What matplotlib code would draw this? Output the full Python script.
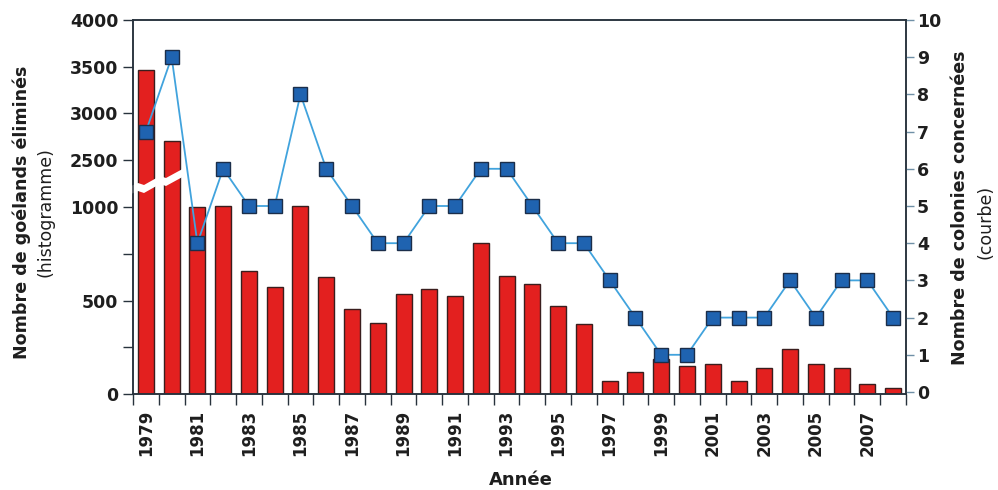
import numpy as np
import matplotlib
matplotlib.use("Agg")
import matplotlib.pyplot as plt
from matplotlib.patches import Polygon

# ---------------- data ----------------
years = list(range(1979, 2009))
goelands = [3460, 2710, 1015, 1020, 659, 574, 1034, 624, 456, 378,
            533, 561, 526, 806, 631, 588, 471, 374, 68, 116,
            186, 150, 159, 71, 139, 242, 159, 137, 53, 32]
colonies = [7, 9, 4, 6, 5, 5, 8, 6, 5, 4,
            4, 5, 5, 6, 6, 5, 4, 4, 3, 2,
            1, 1, 2, 2, 2, 3, 2, 3, 3, 2]
left_ticks = [0, 500, 1000, 2500, 3000, 3500, 4000]
left_minor = [250, 750]
right_ticks = list(range(0, 11))
label_years = [y for y in years if y % 2 == 1]

# ---------------- broken-axis scale ----------------
GAP = 251.0
def fwd(v):
    v = np.asarray(v, dtype=float)
    return np.where(v <= 1000, v,
                    np.where(v < 2500, 1000 + (v - 1000) * GAP / 1500.0,
                             1000 + GAP + (v - 2500) * 0.5))

def inv(u):
    u = np.asarray(u, dtype=float)
    return np.where(u <= 1000, u,
                    np.where(u < 1000 + GAP, 1000 + (u - 1000) * 1500.0 / GAP,
                             2500 + (u - 1000 - GAP) * 2.0))

FONT = "DejaVu Sans"
plt.rcParams['font.family'] = [FONT]

W, H = 998, 490
fig = plt.figure(figsize=(W / 100, H / 100), dpi=100)
L, R, T, B = 133, 906, 20, 394
ax = fig.add_axes([L / W, 1 - B / H, (R - L) / W, (B - T) / H])

spine_col = "#27323c"
bar_col = "#e3201f"
bar_edge = "#3a1e1e"

ax.set_yscale('function', functions=(fwd, inv))
ax.bar(years, goelands, width=0.62, color=bar_col, edgecolor=bar_edge,
       linewidth=1.0, zorder=2)
ax.set_xlim(1978.5, 2008.5)
ax.set_ylim(0, 4000)

ax.set_yticks(left_ticks)
ax.set_yticklabels([str(t) for t in left_ticks], fontsize=12.5, fontweight='bold',
                   color="#1e1e1e")
ax.set_yticks(left_minor, minor=True)
ax.tick_params(axis='y', which='both', direction='out', length=7.2, width=1.0,
               color=spine_col, pad=3.5)

# x ticks: marks at slot boundaries, labels at odd years
ax.set_xticks([y - 0.5 for y in years] + [years[-1] + 0.5])
ax.set_xticklabels([])
ax.tick_params(axis='x', which='major', direction='out', length=8, width=1.0,
               color=spine_col)
ax.set_xticks(label_years, minor=True)
ax.set_xticklabels([str(y) for y in label_years], minor=True, rotation=90,
                   fontsize=12, fontweight='bold', color="#1e1e1e")
ax.tick_params(axis='x', which='minor', length=0, pad=11.5)

for s in ax.spines.values():
    s.set_color(spine_col)
    s.set_linewidth(1.1)

# right axis
ax2 = ax.twinx()
ax2.plot(years, colonies, color="#41a3dd", linewidth=1.3, marker='s',
         markersize=9.5, markerfacecolor="#1f63b0", markeredgecolor="#1b2e4a",
         markeredgewidth=1.0, zorder=3)
ax2.set_ylim(-0.054, 10)
ax2.set_yticks(right_ticks)
ax2.set_yticklabels([str(t) for t in right_ticks], fontsize=12.5, fontweight='bold',
                    color="#1e1e1e")
ax2.tick_params(axis='y', direction='out', length=6, width=1.0, color="#6f8fa6", pad=2)
for s in ax2.spines.values():
    s.set_color(spine_col)
    s.set_linewidth(1.1)

# axis break (white slanted band)
def px(xp, yp):
    return ((xp - L) / (R - L), (B - yp) / (B - T))
lower = [(124, 197), (138, 191), (144, 193), (160, 184), (166, 186), (188, 174)]
upper = [(x, y - 8) for x, y in lower[::-1]]
poly = Polygon([px(*p) for p in lower + upper], closed=True, transform=ax.transAxes,
               facecolor='white', edgecolor='none', clip_on=False, zorder=10)
ax.add_patch(poly)

# labels
fig.text(22 / W, 1 - 212 / H, "Nombre de goélands éliminés", rotation=90,
         ha='center', va='center', fontsize=12.6, fontweight='bold', color="#1e1e1e")
fig.text(46 / W, 1 - 212 / H, "(histogramme)", rotation=90,
         ha='center', va='center', fontsize=12.5, color="#1e1e1e")
fig.text(960 / W, 1 - 208 / H, "Nombre de colonies concernées", rotation=90,
         ha='center', va='center', fontsize=12.6, fontweight='bold', color="#1e1e1e")
fig.text(985 / W, 1 - 222 / H, "(courbe)", rotation=90,
         ha='center', va='center', fontsize=12.5, color="#1e1e1e")
fig.text(521 / W, 1 - 480 / H, "Année", ha='center', va='center',
         fontsize=13, fontweight='bold', color="#1e1e1e")

fig.savefig("out.png", dpi=100)
